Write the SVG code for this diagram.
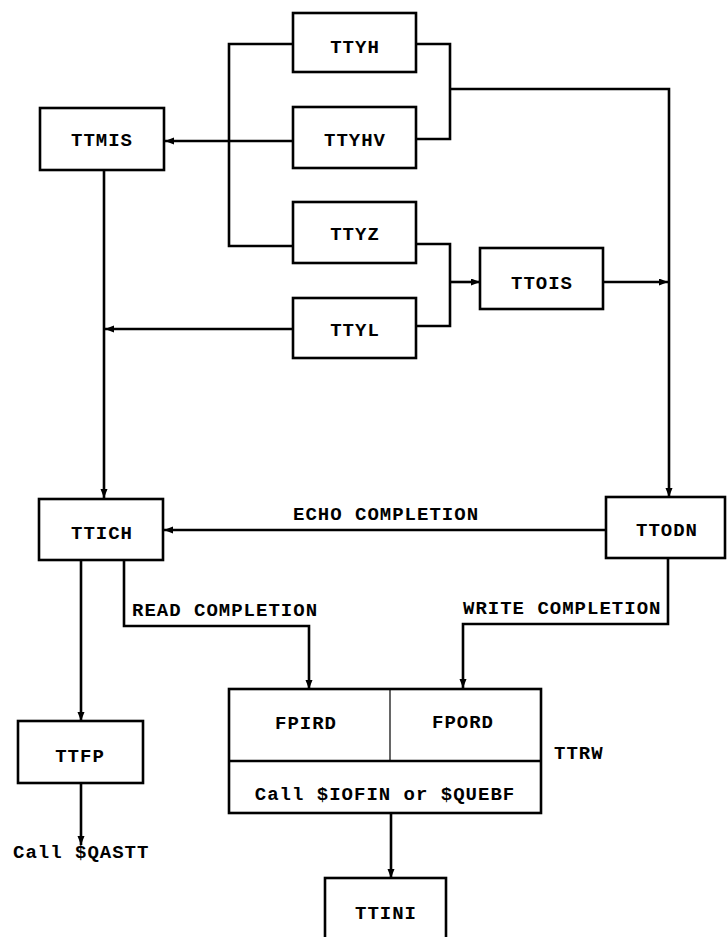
<svg xmlns="http://www.w3.org/2000/svg" width="727" height="937" viewBox="0 0 727 937">
<style>
.box{fill:#fff;stroke:#000;stroke-width:2.6}
.ln{fill:none;stroke:#000;stroke-width:2.6}
.thin{fill:none;stroke:#000;stroke-width:1.2}
text{font-family:"Liberation Mono","Courier New",monospace;font-size:19px;font-weight:bold;letter-spacing:1px;fill:#000}
.c{text-anchor:middle}
</style>
<defs>
<marker id="ah" markerUnits="userSpaceOnUse" markerWidth="10" markerHeight="8" refX="9" refY="3.5" orient="auto">
<path d="M0,0 L9,3.5 L0,7 z" fill="#000"/>
</marker>
</defs>
<rect width="727" height="937" fill="#fff"/>
<g id="connectors">
<path class="ln" d="M293,141 L165,141" marker-end="url(#ah)"/>
<path class="ln" d="M293,44 L229,44 L229,246 L293,246"/>
<path class="ln" d="M293,329 L105,329" marker-end="url(#ah)"/>
<path class="ln" d="M104,170 L104,498" marker-end="url(#ah)"/>
<path class="ln" d="M416,44 L450,44 L450,139 L416,139"/>
<path class="ln" d="M450,89 L669,89 L669,497" marker-end="url(#ah)"/>
<path class="ln" d="M416,244 L450,244 L450,326 L416,326"/>
<path class="ln" d="M450,282 L480,282" marker-end="url(#ah)"/>
<path class="ln" d="M603,282 L668,282" marker-end="url(#ah)"/>
<path class="ln" d="M606,530 L164,530" marker-end="url(#ah)"/>
<path class="ln" d="M81,560 L81,721" marker-end="url(#ah)"/>
<path class="ln" d="M124,560 L124,626 L309,626 L309,689" marker-end="url(#ah)"/>
<path class="ln" d="M668,558 L668,624 L463,624 L463,688" marker-end="url(#ah)"/>
<path class="ln" d="M81,783 L81,845" marker-end="url(#ah)"/>
<path class="ln" d="M391,813 L391,878" marker-end="url(#ah)"/>
<text x="293" y="520">ECHO COMPLETION</text>
<text x="132" y="616">READ COMPLETION</text>
<text x="463" y="614">WRITE COMPLETION</text>
<text x="13" y="858">Call $QASTT</text>
</g>
<g id="TTMIS"><rect class="box" x="40" y="108" width="124" height="62"/><text class="c" x="102" y="146">TTMIS</text></g>
<g id="TTYH"><rect class="box" x="293" y="13" width="123" height="59"/><text class="c" x="355" y="53">TTYH</text></g>
<g id="TTYHV"><rect class="box" x="293" y="107" width="123" height="61"/><text class="c" x="355" y="146">TTYHV</text></g>
<g id="TTYZ"><rect class="box" x="293" y="202" width="123" height="61"/><text class="c" x="355" y="240">TTYZ</text></g>
<g id="TTYL"><rect class="box" x="293" y="298" width="123" height="60"/><text class="c" x="355" y="336">TTYL</text></g>
<g id="TTOIS"><rect class="box" x="480" y="248" width="123" height="61"/><text class="c" x="542" y="289">TTOIS</text></g>
<g id="TTICH"><rect class="box" x="39" y="499" width="124" height="61"/><text class="c" x="102" y="539">TTICH</text></g>
<g id="TTODN"><rect class="box" x="606" y="497" width="119" height="61"/><text class="c" x="667" y="536">TTODN</text></g>
<g id="TTFP"><rect class="box" x="18" y="721" width="125" height="62"/><text class="c" x="80" y="762">TTFP</text></g>
<g id="TTRW">
<rect class="box" x="229" y="689" width="312" height="124"/>
<line class="ln" x1="229" y1="761" x2="541" y2="761"/>
<line class="thin" x1="390" y1="689" x2="390" y2="761"/>
<text class="c" x="306" y="729">FPIRD</text>
<text class="c" x="463" y="728">FPORD</text>
<text class="c" x="385" y="800">Call $IOFIN or $QUEBF</text>
<text x="554" y="759">TTRW</text>
</g>
<g id="TTINI"><rect class="box" x="325" y="878" width="121" height="70"/><text class="c" x="386" y="919">TTINI</text></g>
</svg>
